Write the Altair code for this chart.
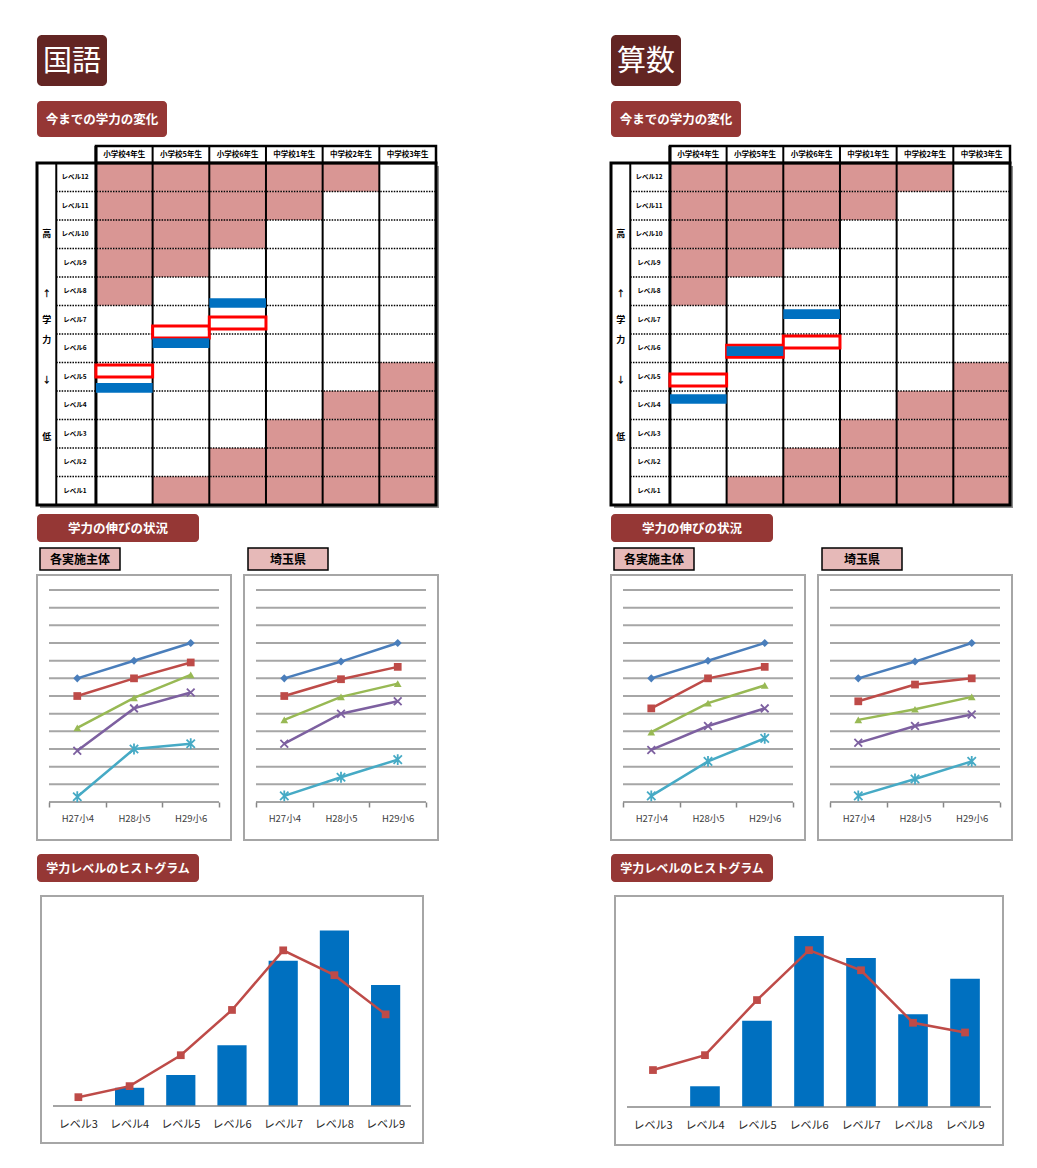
import altair as alt
import pandas as pd

FONT = "Noto Sans CJK JP"

# ---------------- data ----------------
subjects = ["国語", "算数"]
section_titles = ["今までの学力の変化", "学力の伸びの状況", "学力レベルのヒストグラム"]
panel_titles = ["各実施主体", "埼玉県"]

grades = ["小学校4年生", "小学校5年生", "小学校6年生", "中学校1年生", "中学校2年生", "中学校3年生"]
level_values = [12, 11, 10, 9, 8, 7, 6, 5, 4, 3, 2, 1]
level_labels = ["レベル12", "レベル11", "レベル10", "レベル9", "レベル8", "レベル7",
                "レベル6", "レベル5", "レベル4", "レベル3", "レベル2", "レベル1"]
grade_level_min = [1, 2, 3, 4, 5, 6]
grade_level_max = [7, 8, 9, 10, 11, 12]
side_labels = ["高", "↑", "学", "力", "↓", "低"]
side_label_pos = [10.0, 7.9, 7.0, 6.3, 4.9, 2.9]

kokugo_blue_level = [4.61, 6.18, 7.59]
kokugo_red_level = [5.20, 6.57, 6.89]
sansu_blue_level = [4.22, 5.90, 7.20]
sansu_red_level = [4.89, 5.90, 6.22]

years = ["H27小4", "H28小5", "H29小6"]
series_names = ["系列1", "系列2", "系列3", "系列4", "系列5"]
kokugo_local = [[7.0, 8.0, 9.0], [6.0, 7.0, 7.9], [4.2, 5.9, 7.2], [2.9, 5.3, 6.2], [0.3, 3.0, 3.3]]
kokugo_pref = [[7.0, 7.95, 9.0], [6.0, 6.95, 7.65], [4.65, 5.95, 6.7], [3.3, 5.0, 5.7], [0.35, 1.4, 2.4]]
sansu_local = [[7.0, 8.0, 9.0], [5.3, 7.0, 7.65], [3.95, 5.6, 6.6], [2.95, 4.3, 5.3], [0.35, 2.3, 3.6]]
sansu_pref = [[7.0, 7.95, 9.0], [5.7, 6.65, 7.0], [4.65, 5.25, 5.95], [3.35, 4.3, 4.95], [0.35, 1.3, 2.3]]

hist_levels = ["レベル3", "レベル4", "レベル5", "レベル6", "レベル7", "レベル8", "レベル9"]
kokugo_hist_bar = [0.0, 3.3, 5.6, 11.0, 26.3, 31.8, 21.9]
kokugo_hist_line = [1.6, 3.6, 9.2, 17.4, 28.2, 23.7, 16.6]
sansu_hist_bar = [0.0, 3.2, 13.3, 26.4, 23.0, 14.3, 19.8]
sansu_hist_line = [5.7, 8.0, 16.5, 24.2, 21.1, 13.0, 11.5]

# ---------------- styles ----------------
TITLE_FILL = "#632523"
SECTION_FILL = "#953735"
LABEL_FILL = "#e6b9b8"
PINK = "#d99694"
BLUE = "#0070c0"
RED = "#ff0000"
SER_COLORS = ["#4a7ebb", "#be4b48", "#98b954", "#7d60a0", "#46aac5"]
SER_SHAPES = ["diamond", "square", "triangle-up",
              "M-1,-1L1,1M-1,1L1,-1",
              "M-1,-1L1,1M-1,1L1,-1M0,-1.3L0,1.3"]
SER_FILLED = [True, True, True, False, False]
SER_SIZES = [65, 60, 60, 60, 70]


def box(text, w, h, fill, color, size, weight="bold", stroke="transparent", stroke_w=0, radius=4):
    return alt.Chart(pd.DataFrame({"t": [text]})).mark_text(
        font=FONT, fontSize=size, fontWeight=weight, color=color,
        align="center", baseline="middle"
    ).encode(
        x=alt.value(w / 2), y=alt.value(h / 2 + 1), text="t:N"
    ).properties(
        width=w, height=h,
        view=alt.ViewBackground(fill=fill, stroke=stroke, strokeWidth=stroke_w, cornerRadius=radius)
    )


def spacer():
    return alt.Chart(pd.DataFrame({"t": [0]})).mark_rect(opacity=0).encode(
        x=alt.value(0), x2=alt.value(1), y=alt.value(0), y2=alt.value(1)
    ).properties(width=1, height=1, view=alt.ViewBackground(strokeWidth=0, strokeOpacity=0))


def table_panel(blue_vals, red_vals):
    n_g = len(grades)
    n_l = len(level_values)
    X_LEFT, X_LABEL = -1.04, -0.70
    Y_BOT, Y_TOP, Y_HEAD = 0.5, n_l + 0.5, n_l + 1.1
    W, H = 399, 359
    xs = alt.Scale(domain=[X_LEFT, n_g], nice=False, zero=False)
    ys = alt.Scale(domain=[Y_BOT, Y_HEAD], nice=False, zero=False)

    def renc():
        return dict(x=alt.X("x0:Q", scale=xs, axis=None), x2="x1:Q",
                    y=alt.Y("y0:Q", scale=ys, axis=None), y2="y1:Q")

    frame_df = pd.DataFrame({"x0": [X_LEFT], "x1": [n_g], "y0": [Y_BOT], "y1": [Y_TOP]})
    shadow = alt.Chart(frame_df).mark_rect(fill="#8c8c8c", xOffset=3, x2Offset=3, yOffset=3, y2Offset=3).encode(**renc())
    white = alt.Chart(frame_df).mark_rect(fill="white").encode(**renc())

    cells = []
    for gi in range(n_g):
        for lv in level_values:
            if lv < grade_level_min[gi] or lv > grade_level_max[gi]:
                cells.append({"x0": gi, "x1": gi + 1, "y0": lv - 0.5, "y1": lv + 0.5})
    pink = alt.Chart(pd.DataFrame(cells)).mark_rect(fill=PINK).encode(**renc())

    dot_df = pd.DataFrame({"x0": X_LABEL, "x1": n_g, "y0": [lv + 0.5 for lv in level_values[1:]]})
    dots = alt.Chart(dot_df).mark_rule(color="black", strokeWidth=1.5, strokeDash=[1.5, 1.2]).encode(
        x=alt.X("x0:Q", scale=xs, axis=None), x2="x1:Q", y=alt.Y("y0:Q", scale=ys, axis=None))

    vl = [{"x0": X_LABEL, "y0": Y_BOT, "y1": Y_TOP, "w": 2}]
    vl.append({"x0": 0, "y0": Y_BOT, "y1": Y_HEAD, "w": 3})
    for gi in range(1, n_g):
        vl.append({"x0": gi, "y0": Y_BOT, "y1": Y_HEAD, "w": 2})
    vlines = alt.Chart(pd.DataFrame(vl)).mark_rule(color="black").encode(
        x=alt.X("x0:Q", scale=xs, axis=None), y=alt.Y("y0:Q", scale=ys, axis=None), y2="y1:Q",
        strokeWidth=alt.StrokeWidth("w:Q", scale=None))

    head_df = pd.DataFrame({"x0": [0], "x1": [n_g], "y0": [Y_TOP], "y1": [Y_HEAD]})
    head = alt.Chart(head_df).mark_rect(fillOpacity=0, stroke="black", strokeWidth=2.5).encode(**renc())
    frame = alt.Chart(frame_df).mark_rect(fillOpacity=0, stroke="black", strokeWidth=3).encode(**renc())

    red_df = pd.DataFrame({"x0": list(range(len(red_vals))),
                           "x1": [i + 1 for i in range(len(red_vals))],
                           "y0": [v - 0.21 for v in red_vals], "y1": [v + 0.21 for v in red_vals]})
    reds = alt.Chart(red_df).mark_rect(fill="white", stroke=RED, strokeWidth=3).encode(**renc())
    blue_df = pd.DataFrame({"x0": list(range(len(blue_vals))),
                            "x1": [i + 1 for i in range(len(blue_vals))],
                            "y0": [v - 0.17 for v in blue_vals], "y1": [v + 0.17 for v in blue_vals]})
    blues = alt.Chart(blue_df).mark_rect(fill=BLUE).encode(**renc())

    row_df = pd.DataFrame({"x0": (X_LABEL + 0) / 2 - 0.02, "y0": level_values, "t": level_labels})
    rowtxt = alt.Chart(row_df).mark_text(font=FONT, fontSize=6.5, fontWeight="bold", color="black").encode(
        x=alt.X("x0:Q", scale=xs, axis=None), y=alt.Y("y0:Q", scale=ys, axis=None), text="t:N")
    hd_df = pd.DataFrame({"x0": [i + 0.5 for i in range(n_g)], "y0": (Y_TOP + Y_HEAD) / 2, "t": grades})
    hdtxt = alt.Chart(hd_df).mark_text(font=FONT, fontSize=7.5, fontWeight="bold", color="black").encode(
        x=alt.X("x0:Q", scale=xs, axis=None), y=alt.Y("y0:Q", scale=ys, axis=None), text="t:N")
    sd_df = pd.DataFrame({"x0": (X_LEFT + X_LABEL) / 2, "y0": side_label_pos, "t": side_labels})
    sdtxt = alt.Chart(sd_df).mark_text(font=FONT, fontSize=9, fontWeight="bold", color="black").encode(
        x=alt.X("x0:Q", scale=xs, axis=None), y=alt.Y("y0:Q", scale=ys, axis=None), text="t:N")

    return alt.layer(shadow, white, pink, dots, vlines, head, frame, reds, blues,
                     rowtxt, hdtxt, sdtxt).properties(
        width=W, height=H, view=alt.ViewBackground(strokeWidth=0, strokeOpacity=0))


def line_panel(vals):
    W, H = 194, 265
    xs = alt.Scale(type="band", domain=years, paddingInner=0, paddingOuter=0.21)
    ys = alt.Scale(domain=[-2.15, 12.85], nice=False, zero=False)
    X = alt.X("年度:N", scale=xs, sort=years,
              axis=alt.Axis(title=None, orient="bottom", offset=-38, domain=False, ticks=True,
                            tickBand="extent", tickSize=5, tickColor="#868686", tickWidth=1.5,
                            labelPadding=6, labelFontSize=9.5, labelColor="#404040",
                            labelAngle=0, grid=False, labelFont=FONT))
    grid = alt.Chart(pd.DataFrame({"g": list(range(1, 13))})).mark_rule(
        color="#a6a6a6", strokeWidth=2).encode(
        y=alt.Y("g:Q", scale=ys, axis=None), x=alt.value(12), x2=alt.value(W - 12))
    base = alt.Chart(pd.DataFrame({"g": [0]})).mark_rule(color="#868686", strokeWidth=1.5).encode(
        y=alt.Y("g:Q", scale=ys, axis=None), x=alt.value(12), x2=alt.value(W - 12))
    layers = [grid, base]
    for i, s in enumerate(series_names):
        df = pd.DataFrame({"年度": years, "値": vals[i], "系列": s})
        Y = alt.Y("値:Q", scale=ys, axis=None)
        layers.append(alt.Chart(df).mark_line(color=SER_COLORS[i], strokeWidth=2.5).encode(x=X, y=Y))
    for i, s in enumerate(series_names):
        df = pd.DataFrame({"年度": years, "値": vals[i], "系列": s})
        Y = alt.Y("値:Q", scale=ys, axis=None)
        layers.append(alt.Chart(df).mark_point(
            shape=SER_SHAPES[i], filled=SER_FILLED[i], color=SER_COLORS[i], size=SER_SIZES[i],
            strokeWidth=1.8, opacity=1).encode(x=X, y=Y))
    return alt.layer(*layers).properties(
        width=W, height=H,
        view=alt.ViewBackground(fill="white", stroke="#a6a6a6", strokeWidth=2))


def hist_panel(bars, line, W, H, y_dom, axis_off):
    df = pd.DataFrame({"レベル": hist_levels, "学校": bars, "県": line})
    xs = alt.Scale(type="band", domain=hist_levels, paddingInner=0.43, paddingOuter=0.445)
    ys = alt.Scale(domain=y_dom, nice=False, zero=False)
    X = alt.X("レベル:N", scale=xs, sort=hist_levels,
              axis=alt.Axis(title=None, orient="bottom", offset=-axis_off, domain=False, ticks=False,
                            labelPadding=12, labelFontSize=11, labelColor="#262626",
                            labelAngle=0, grid=False, labelFont=FONT))
    base = alt.Chart(pd.DataFrame({"g": [0]})).mark_rule(color="#868686", strokeWidth=1.5).encode(
        y=alt.Y("g:Q", scale=ys, axis=None), x=alt.value(12), x2=alt.value(W - 12))
    bar = alt.Chart(df).mark_bar(color=BLUE).encode(
        x=X, y=alt.Y("学校:Q", scale=ys, axis=None), y2=alt.datum(0))
    ln = alt.Chart(df).mark_line(color="#be4b48", strokeWidth=2.5).encode(
        x=X, y=alt.Y("県:Q", scale=ys, axis=None))
    pt = alt.Chart(df).mark_point(shape="square", filled=True, color="#be4b48", size=60, opacity=1).encode(
        x=X, y=alt.Y("県:Q", scale=ys, axis=None))
    return alt.layer(bar, base, ln, pt).properties(
        width=W, height=H,
        view=alt.ViewBackground(fill="white", stroke="#a6a6a6", strokeWidth=2))


def column(subject, blue_vals, red_vals, local, pref, hbar, hline, hW, hH, hdom, hoff):
    title = box(subject, 70, 51, TITLE_FILL, "white", 29, weight="normal", radius=5)
    sec1 = box(section_titles[0], 130, 36, SECTION_FILL, "white", 12.5)
    table = table_panel(blue_vals, red_vals)
    sec2 = box(section_titles[1], 162, 28, SECTION_FILL, "white", 12.5)
    subl = alt.hconcat(
        spacer(),
        alt.hconcat(
            box(panel_titles[0], 80, 22, LABEL_FILL, "black", 12, stroke="black", stroke_w=1.5, radius=0),
            box(panel_titles[1], 80, 22, LABEL_FILL, "black", 12, stroke="black", stroke_w=1.5, radius=0),
            spacing=126),
        spacing=1)
    lines = alt.hconcat(line_panel(local), line_panel(pref), spacing=11)
    sec3 = box(section_titles[2], 162, 28, SECTION_FILL, "white", 12)
    hist = alt.hconcat(spacer(), hist_panel(hbar, hline, hW, hH, hdom, hoff), spacing=2)

    part = alt.vconcat(sec3, hist, spacing=13)
    part = alt.vconcat(lines, part, spacing=13)
    part = alt.vconcat(subl, part, spacing=3)
    part = alt.vconcat(sec2, part, spacing=5)
    part = alt.vconcat(table, part, spacing=6)
    part = alt.vconcat(sec1, part, spacing=7)
    return alt.vconcat(title, part, spacing=15)


left = column(subjects[0], kokugo_blue_level, kokugo_red_level, kokugo_local, kokugo_pref,
              kokugo_hist_bar, kokugo_hist_line, 382, 247, [-37 / 5.52, 210 / 5.52], 37)
right = column(subjects[1], sansu_blue_level, sansu_red_level, sansu_local, sansu_pref,
               sansu_hist_bar, sansu_hist_line, 388, 249, [-38 / 6.48, 211 / 6.48], 38)

chart = alt.hconcat(left, right, spacing=170).properties(
    padding={"left": 27, "top": 27, "right": 5, "bottom": 5}
).configure_view(stroke="transparent").configure(font=FONT, background="white")

chart.save("out.html", embed_options={"renderer": "svg", "actions": False})
